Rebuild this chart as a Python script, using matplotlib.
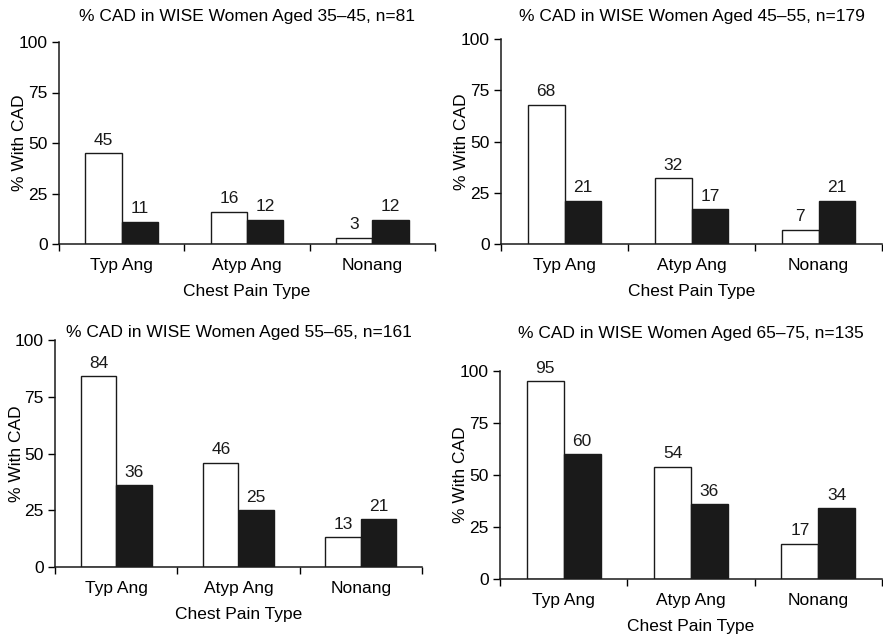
import numpy as np
import matplotlib
matplotlib.use("Agg")
import matplotlib.pyplot as plt

plt.rcParams['font.family'] = ['Liberation Sans', 'DejaVu Sans']

categories = ['Typ Ang', 'Atyp Ang', 'Nonang']
titles = [
    '% CAD in WISE Women Aged 35\u201345, n=81',
    '% CAD in WISE Women Aged 45\u201355, n=179',
    '% CAD in WISE Women Aged 55\u201365, n=161',
    '% CAD in WISE Women Aged 65\u201375, n=135',
]
white_vals = [
    [45, 16, 3],
    [68, 32, 7],
    [84, 46, 13],
    [95, 54, 17],
]
black_vals = [
    [11, 12, 12],
    [21, 17, 21],
    [36, 25, 21],
    [60, 36, 34],
]
yticks = [0, 25, 50, 75, 100]

W, H = 883, 641
# axes boxes in pixels: left, right, top (y=100), bottom (y=0), title pad in pt
boxes = [
    (59, 435, 42, 244, 15),
    (501, 882, 39, 244, 13),
    (55, 422, 340, 567, 1.5),
    (500, 882, 371, 579, 24),
]
fs = 12.5

fig = plt.figure(figsize=(W / 100, H / 100), dpi=100)

bar_w = 0.29
x = np.arange(len(categories)) + 0.5

for i, (l, r, t, b, tpad) in enumerate(boxes):
    ax = fig.add_axes([l / W, 1 - b / H, (r - l) / W, (b - t) / H])
    wb = ax.bar(x - bar_w / 2, white_vals[i], bar_w, color='white',
                edgecolor='#1a1a1a', linewidth=1.0)
    bb = ax.bar(x + bar_w / 2, black_vals[i], bar_w, color='#1a1a1a',
                edgecolor='#1a1a1a', linewidth=1.0)
    for rect, v in list(zip(wb, white_vals[i])) + list(zip(bb, black_vals[i])):
        ax.annotate(str(v), (rect.get_x() + rect.get_width() / 2, v),
                    xytext=(0, 4), textcoords='offset points',
                    ha='center', va='bottom', fontsize=fs, color='#1a1a1a')

    ax.set_xlim(0, 3)
    ax.set_ylim(0, 100)
    ax.set_yticks(yticks)
    ax.set_xticks([0, 1, 2, 3])
    ax.set_xticklabels([])
    ax.set_xticks(x, minor=True)
    ax.set_xticklabels(categories, minor=True)
    ax.tick_params(axis='x', which='minor', length=0, pad=10, labelsize=fs)
    ax.tick_params(axis='x', which='major', length=5, width=1, direction='out')
    ax.tick_params(axis='y', length=5, width=1, pad=3, labelsize=fs)
    for s in ['top', 'right']:
        ax.spines[s].set_visible(False)
    for s in ['left', 'bottom']:
        ax.spines[s].set_linewidth(1.1)
        ax.spines[s].set_color('#1a1a1a')

    ax.set_xlabel('Chest Pain Type', fontsize=fs, labelpad=8)
    ax.set_ylabel('% With CAD', fontsize=fs)
    ax.yaxis.set_label_coords(-0.085, 0.5)
    ax.set_title(titles[i], fontsize=fs, pad=tpad)

fig.savefig('out.png', dpi=100)
